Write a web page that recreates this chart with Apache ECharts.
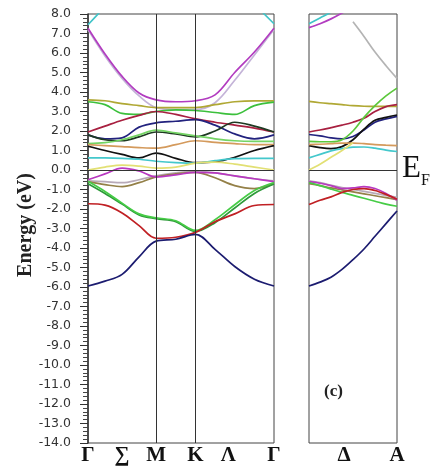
<!DOCTYPE html>
<html>
<head>
<meta charset="utf-8">
<script src="https://cdn.jsdelivr.net/npm/echarts@6/dist/echarts.min.js"></script>
<style>
  html, body { margin: 0; padding: 0; background: #fff; }
  #main { width: 432px; height: 466px; }
</style>
</head>
<body>
<div id="main"></div>
<script>
// k-path sampling (Γ-M-K-Γ, then Γ-A)
const kLeft = [0, 0.144, 0.289, 0.433, 0.577, 0.744, 0.911, 1.077, 1.244, 1.411, 1.577]
const kRight = [0, 0.125, 0.25, 0.375, 0.5, 0.625, 0.75, 0.875, 1]

const leftTickPos = [0, 0.289, 0.577, 0.911, 1.19, 1.577]
const leftTickNames = ['Γ', '∑', 'M', 'K', 'Λ', 'Γ']
const rightTickPos = [0.4, 1]
const rightTickNames = ['Δ', 'A']
const symPoints = [0.577, 0.911] // M, K

// bands along Γ-M-K-Γ (eV)
const magentaTop = [7.27, 5.95, 4.8, 3.95, 3.6, 3.5, 3.55, 3.85, 5.0, 6.05, 7.27]
const lavender = [7.2, 5.85, 4.7, 3.8, 3.2, 3.1, 3.1, 3.45, 4.6, 5.9, 7.2]
const cyanTop = [7.45, 8.4, 9.5, 10.3, 11, 11, 11, 10.3, 9.5, 8.5, 7.5]
const olive = [3.6, 3.55, 3.4, 3.3, 3.2, 3.2, 3.2, 3.35, 3.5, 3.55, 3.55]
const green = [3.5, 3.35, 2.9, 2.85, 3.0, 3.08, 3.05, 2.95, 2.85, 3.3, 3.48]
const red = [1.95, 2.25, 2.55, 2.8, 3.0, 2.85, 2.62, 2.45, 2.3, 2.15, 1.95]
const navy = [1.8, 1.6, 1.65, 2.2, 2.42, 2.5, 2.58, 2.3, 1.85, 1.6, 1.8]
const darkGreen = [1.8, 1.55, 1.5, 1.7, 1.95, 1.85, 1.7, 2.0, 2.45, 2.25, 1.95]
const lightGreen = [1.35, 1.4, 1.55, 1.8, 2.05, 1.9, 1.75, 1.6, 1.5, 1.47, 1.47]
const orange = [1.3, 1.25, 1.2, 1.15, 1.12, 1.3, 1.5, 1.42, 1.35, 1.3, 1.3]
const black = [1.22, 1.0, 0.8, 0.62, 0.87, 0.6, 0.38, 0.42, 0.65, 1.0, 1.25]
const cyan = [0.62, 0.62, 0.6, 0.55, 0.45, 0.38, 0.35, 0.48, 0.58, 0.6, 0.6]
const yellow = [0.0, 0.15, 0.25, 0.2, 0.1, 0.15, 0.35, 0.4, 0.3, 0.15, 0.0]
const magentaLow = [-0.5, -0.2, 0.1, -0.05, -0.35, -0.25, -0.12, -0.15, -0.3, -0.45, -0.6]
const grayLow = [-0.55, -0.6, -0.65, -0.5, -0.3, -0.15, -0.05, -0.15, -0.3, -0.45, -0.55]
const brownLow = [-0.6, -0.75, -0.85, -0.65, -0.35, -0.2, -0.12, -0.4, -0.8, -0.95, -0.7]
const greenLow = [-0.58, -1.1, -1.7, -2.25, -2.45, -2.6, -3.1, -2.55, -1.78, -1.05, -0.64]
const greenLow2 = [-0.7, -1.2, -1.75, -2.3, -2.5, -2.65, -3.15, -2.7, -1.95, -1.2, -0.72]
const redLow = [-1.73, -1.8, -2.2, -2.85, -3.5, -3.45, -3.2, -2.65, -2.25, -1.82, -1.77]
const navyLow = [-5.95, -5.7, -5.35, -4.45, -3.65, -3.55, -3.3, -4.07, -4.95, -5.6, -5.95]

// bands along Γ-A (eV)
const magentaTopR = [7.3, 7.5, 7.75, 8.05, 8.4, 8.8, 9.2, 9.6, 10]
const cyanTopR = [7.5, 7.8, 8.1, 8.5, 9, 9.5, 10, 10.5, 11]
const grayR = [null, null, null, null, 7.6, 6.85, 6.05, 5.35, 4.7]
const oliveR = [3.52, 3.45, 3.4, 3.35, 3.3, 3.27, 3.26, 3.26, 3.26]
const redR = [1.95, 2.05, 2.17, 2.3, 2.45, 2.65, 3.0, 3.25, 3.35]
const blackR = [1.25, 1.15, 1.1, 1.2, 1.55, 2.1, 2.55, 2.7, 2.82]
const navyR = [1.82, 1.75, 1.65, 1.6, 1.72, 2.05, 2.45, 2.62, 2.75]
const lightGreenR = [1.47, 1.45, 1.45, 1.55, 2.0, 2.7, 3.3, 3.8, 4.2]
const orangeR = [1.3, 1.32, 1.35, 1.38, 1.38, 1.35, 1.3, 1.27, 1.25]
const cyanR = [0.62, 0.8, 0.98, 1.1, 1.17, 1.18, 1.12, 1.02, 0.95]
const yellowR = [0.0, 0.3, 0.65, 1.0, 1.4, null, null, null, null]
const magentaLowR = [-0.6, -0.68, -0.8, -0.95, -0.92, -0.85, -0.95, -1.2, -1.55]
const grayLowR = [-0.55, -0.65, -0.78, -0.9, -1.0, -1.1, -1.2, -1.3, -1.4]
const brownLowR = [-0.7, -0.8, -0.92, -1.02, -1.12, -1.22, -1.32, -1.42, -1.52]
const greenLowR = [-0.64, -0.8, -0.98, -1.15, -1.3, -1.45, -1.6, -1.75, -1.86]
const redLowR = [-1.77, -1.55, -1.38, -1.15, -1.0, -0.95, -1.05, -1.25, -1.5]
const navyLowR = [-5.95, -5.75, -5.5, -5.1, -4.6, -4.05, -3.4, -2.75, -2.1]

const leftBands = [
  [cyanTop, '#40c4c8'], [lavender, '#c4b4d8'], [magentaTop, '#b23cc0'],
  [olive, '#b0a834'], [green, '#3cc03c'], [red, '#a82040'], [navy, '#22227e'],
  [darkGreen, '#1e3a22'], [lightGreen, '#74d464'], [orange, '#d49a5c'],
  [black, '#111111'], [cyan, '#44c8cc'], [yellow, '#e2e074'],
  [grayLow, '#b8aab8'], [brownLow, '#948048'], [magentaLow, '#b838c0'],
  [greenLow2, '#2e9a3a'], [greenLow, '#46cc46'], [redLow, '#c02024'], [navyLow, '#1c1c70']
]
const rightBands = [
  [cyanTopR, '#40c4c8'], [magentaTopR, '#b23cc0'], [grayR, '#b4b4b4'],
  [oliveR, '#b0a834'], [redR, '#a82040'], [navyR, '#22227e'], [blackR, '#111111'],
  [orangeR, '#d49a5c'], [cyanR, '#44c8cc'], [yellowR, '#e2e074'], [lightGreenR, '#5cc83c'],
  [grayLowR, '#b8aab8'], [brownLowR, '#948048'], [magentaLowR, '#b838c0'],
  [greenLowR, '#46cc46'], [redLowR, '#c02024'], [navyLowR, '#1c1c70']
]

function bandSeries (ks, es, color, idx) {
  const data = []
  ks.forEach((k, i) => { if (es[i] !== null) data.push([k, es[i]]) })
  return {
    type: 'line',
    xAxisIndex: idx,
    yAxisIndex: idx,
    data: data,
    smooth: 0.35,
    symbol: 'none',
    silent: true,
    lineStyle: { color: color, width: 1.7 }
  }
}

function labelOf (pos, names) {
  return function (v) {
    const i = pos.findIndex(p => Math.abs(p - v) < 1e-6)
    return i >= 0 ? names[i] : ''
  }
}

const series = []
leftBands.forEach(b => series.push(bandSeries(kLeft, b[0], b[1], 0)))
rightBands.forEach(b => series.push(bandSeries(kRight, b[0], b[1], 1)))

// reference lines: M, K and the Fermi level
series.push({
  type: 'line', xAxisIndex: 0, yAxisIndex: 0, data: [], silent: true,
  markLine: {
    symbol: 'none', silent: true, animation: false,
    label: { show: false },
    lineStyle: { color: '#333', width: 1, type: 'solid' },
    data: symPoints.map(k => ({ xAxis: k })).concat([{ yAxis: 0 }])
  }
})
series.push({
  type: 'line', xAxisIndex: 1, yAxisIndex: 1, data: [], silent: true,
  markLine: {
    symbol: 'none', silent: true, animation: false,
    label: { show: false },
    lineStyle: { color: '#333', width: 1, type: 'solid' },
    data: [{ yAxis: 0 }]
  }
})

const serif = 'Liberation Serif, DejaVu Serif, serif'
const xLabel = { fontFamily: serif, fontWeight: 'bold', fontSize: 21, color: '#111', margin: 2 }

const option = {
  animation: false,
  grid: [
    { left: 88, top: 14, width: 186, height: 430, show: true, borderColor: '#444', borderWidth: 1 },
    { left: 309, top: 14, width: 88, height: 430, show: true, borderColor: '#444', borderWidth: 1 }
  ],
  xAxis: [
    {
      type: 'value', gridIndex: 0, min: 0, max: 1.577,
      axisLine: { show: false }, axisTick: { show: false }, splitLine: { show: false },
      axisLabel: Object.assign({ customValues: leftTickPos, formatter: labelOf(leftTickPos, leftTickNames) }, xLabel)
    },
    {
      type: 'value', gridIndex: 1, min: 0, max: 1,
      axisLine: { show: false }, axisTick: { show: false }, splitLine: { show: false },
      axisLabel: Object.assign({ customValues: rightTickPos, formatter: labelOf(rightTickPos, rightTickNames) }, xLabel)
    }
  ],
  yAxis: [
    {
      type: 'value', gridIndex: 0, min: -14, max: 8, interval: 1,
      axisLine: { show: true, lineStyle: { color: '#333', width: 1.5 } },
      axisTick: { show: true, length: 8, lineStyle: { color: '#333', width: 1 } },
      minorTick: { show: true, splitNumber: 5, length: 5, lineStyle: { color: '#444', width: 1 } },
      splitLine: { show: false },
      axisLabel: {
        formatter: v => v.toFixed(1),
        fontFamily: 'DejaVu Sans', fontSize: 12.5, color: '#333', margin: 17
      }
    },
    {
      type: 'value', gridIndex: 1, min: -14, max: 8, interval: 1,
      axisLine: { show: false }, axisTick: { show: false },
      splitLine: { show: false }, axisLabel: { show: false }
    }
  ],
  graphic: [
    {
      type: 'text', x: 26, y: 225, rotation: Math.PI / 2,
      style: { text: 'Energy (eV)', fontFamily: serif, fontWeight: 'bold', fontSize: 20, fill: '#222', align: 'center', verticalAlign: 'middle' }
    },
    {
      type: 'text', x: 402, y: 153,
      style: { text: 'E', fontFamily: serif, fontSize: 31, fill: '#111' }
    },
    {
      type: 'text', x: 421, y: 173,
      style: { text: 'F', fontFamily: serif, fontSize: 16, fill: '#111' }
    },
    {
      type: 'text', x: 324, y: 383,
      style: { text: '(c)', fontFamily: serif, fontWeight: 'bold', fontSize: 17, fill: '#222' }
    }
  ],
  series: series
}

const myChart = echarts.init(document.getElementById('main'))
myChart.setOption(option)
</script>
</body>
</html>
